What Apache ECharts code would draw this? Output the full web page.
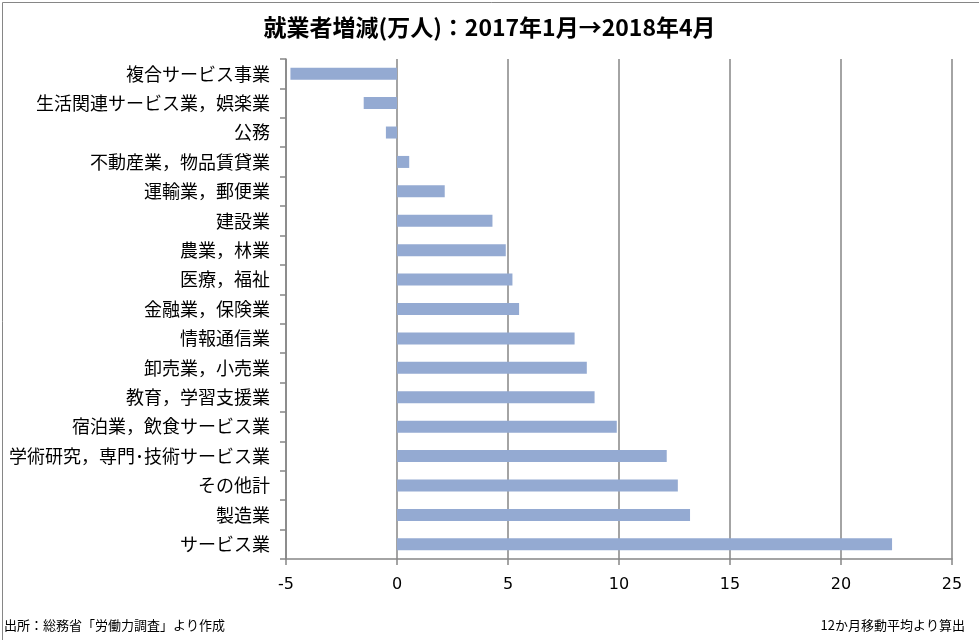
<!DOCTYPE html>
<html><head><meta charset="utf-8">
<script src="https://cdn.jsdelivr.net/npm/echarts@6/dist/echarts.min.js"></script>
<style>html,body{margin:0;padding:0;background:#fff}#c{width:979px;height:640px}</style>
</head><body><div id="c"></div>
<script>
const categories = ["複合サービス事業","生活関連サービス業，娯楽業","公務","不動産業，物品賃貸業","運輸業，郵便業","建設業","農業，林業","医療，福祉","金融業，保険業","情報通信業","卸売業，小売業","教育，学習支援業","宿泊業，飲食サービス業","学術研究，専門･技術サービス業","その他計","製造業","サービス業"];
const values = [-4.8,-1.5,-0.5,0.55,2.15,4.3,4.9,5.2,5.5,8.0,8.55,8.9,9.9,12.15,12.65,13.2,22.3];
const xTicks = [-5,0,5,10,15,20,25];
const titleText = "就業者増減(万人)：2017年1月→2018年4月";
const sourceText = "出所：総務省「労働力調査」より作成";
const noteText = "12か月移動平均より算出";

const chart = echarts.init(document.getElementById('c'), null, {renderer:'canvas'});
const cjk = '"Noto Sans CJK JP", sans-serif';
chart.setOption({
  animation:false,
  backgroundColor:'#fff',
  title:{text:titleText,left:'center',top:11,textStyle:{fontFamily:cjk,fontSize:23,fontWeight:'bold',color:'#000'}},
  grid:{left:286,right:27,top:59,bottom:81,containLabel:false},
  xAxis:{type:'value',min:xTicks[0],max:xTicks[xTicks.length-1],interval:5,
    axisLine:{show:true,onZero:false,lineStyle:{color:'#868686',width:1.5}},
    axisTick:{show:true,length:6,lineStyle:{color:'#868686',width:1.5}},
    axisLabel:{fontFamily:'"DejaVu Sans", sans-serif',fontSize:16,color:'#000',margin:18},
    splitLine:{show:true,lineStyle:{color:'#868686',width:1.5}}},
  yAxis:[
    {type:'category',data:categories,inverse:true,position:'left',
     axisLine:{show:false},axisTick:{show:false},splitLine:{show:false},
     axisLabel:{fontFamily:cjk,fontSize:18,color:'#000',margin:16}},
    {type:'category',data:categories,inverse:true,position:'left',
     axisLine:{show:true,onZero:true,lineStyle:{color:'#868686',width:1.5}},
     axisTick:{show:true,length:6,lineStyle:{color:'#868686',width:1.5}},
     axisLabel:{show:false},splitLine:{show:false}}
  ],
  series:[{type:'bar',data:values,yAxisIndex:0,barWidth:12,itemStyle:{color:'#94aad2'}}],
  graphic:[
    {type:'rect',left:0,top:0,shape:{x:0.5,y:0.5,width:978,height:639},style:{fill:'none',stroke:'#868686',lineWidth:1},silent:true},
    {type:'text',left:4,top:619,style:{text:sourceText,font:'13px '+cjk,fill:'#000'}},
    {type:'text',right:14,top:619,style:{text:noteText,font:'13px '+cjk,fill:'#000'}}
  ]
});
</script></body></html>
